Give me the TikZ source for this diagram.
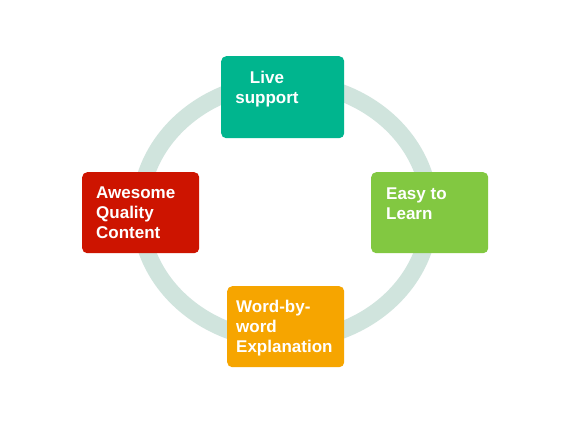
\documentclass[tikz,border=0pt]{standalone}
\usepackage{fontspec}
\setmainfont{Liberation Sans}
\definecolor{ringc}{RGB}{208,228,221}
\definecolor{teal}{RGB}{0,181,142}
\definecolor{redc}{RGB}{205,20,0}
\definecolor{greenc}{RGB}{130,200,65}
\definecolor{orangec}{RGB}{246,165,0}
\tikzset{
  card/.style={draw=none, rounded corners=5pt, anchor=north west, inner sep=0pt},
  lbl/.style={text=white, font=\fontsize{17}{20}\selectfont\bfseries, inner sep=0pt, align=left, anchor=base west},
}
\begin{document}
\begin{tikzpicture}[x=1pt,y=-1pt]
\useasboundingbox[fill=white] (0,0) rectangle (576,433);
\draw[ringc, line width=17pt] (285,211.5) ellipse [x radius=145, y radius=129];
\node[card, fill=teal, minimum width=123pt, minimum height=82pt] (live) at (221,56) {};
\node[card, fill=redc, minimum width=117pt, minimum height=81pt] (awe) at (82,172) {};
\node[card, fill=greenc, minimum width=117pt, minimum height=81pt] (easy) at (371,172) {};
\node[card, fill=orangec, minimum width=117pt, minimum height=81pt] (word) at (227,286) {};
\node[lbl, align=center, anchor=base] (livet) at (267,104) {Live\\support};
\node[lbl] (awet) at (96,238) {Awesome\\Quality\\Content};
\node[lbl] (easyt) at (386,219) {Easy to\\Learn};
\node[lbl] (wordt) at (236,352) {Word-by-\\word\\Explanation};
\end{tikzpicture}
\end{document}
